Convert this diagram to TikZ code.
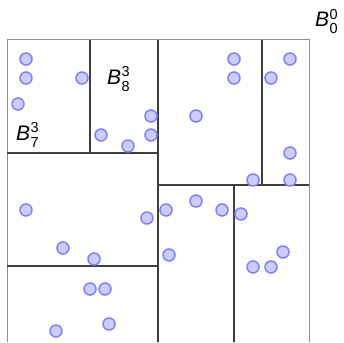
\documentclass[tikz,border=0pt]{standalone}
\usepackage{fontspec}
\setmainfont{Liberation Sans}
\definecolor{ptfill}{HTML}{CCCCFF}
\definecolor{ptdraw}{HTML}{8080FF}
\newcommand\blab[3]{{\fontsize{21}{21}\selectfont\itshape #1}\kern0.3pt\makebox[0pt][l]{\raisebox{7.5pt}{\fontsize{14.5}{14.5}\selectfont #2}}\raisebox{-7pt}{\fontsize{14.5}{14.5}\selectfont #3}}
\tikzset{
  outerline/.style={draw=black!45, line width=1pt},
  splitline/.style={draw=black!75, line width=1.3pt},
  pt/.style={circle, fill=ptfill, draw=ptdraw, line width=1.5pt, minimum size=12pt, inner sep=0pt},
  blabel/.style={anchor=base west, inner sep=0pt}
}
\begin{document}
\begin{tikzpicture}[x=1pt,y=-1pt]
\useasboundingbox (0,0) rectangle (344,342);
\draw[outerline] (7,342) -- (7,40) -- (309,40) -- (309,342);
\draw[splitline] (158,40) -- (158,342);
\draw[splitline] (7,153) -- (158,153);
\draw[splitline] (7,266) -- (158,266);
\draw[splitline] (90,40) -- (90,153);
\draw[splitline] (158,185) -- (309,185);
\draw[splitline] (262,40) -- (262,185);
\draw[splitline] (234,185) -- (234,342);
\foreach \x/\y [count=\i] in {26/59,26/78,82/78,18/104,151/116,101/135,151/135,128/146,
  234/59,234/78,290/59,271/78,196/116,290/153,253/180,290/180,
  26/210,147/218,63/248,94/259,166/210,196/201,222/210,241/214,169/255,283/252,253/267,271/267,
  90/289,105/289,109/324,56/331}
  \node[pt] (p\i) at (\x,\y) {};
\node[blabel] (b00) at (315,27) {\blab{B}{0}{0}};
\node[blabel] (b73) at (16,140) {\blab{B}{3}{7}};
\node[blabel] (b83) at (107,84) {\blab{B}{3}{8}};
\end{tikzpicture}
\end{document}
